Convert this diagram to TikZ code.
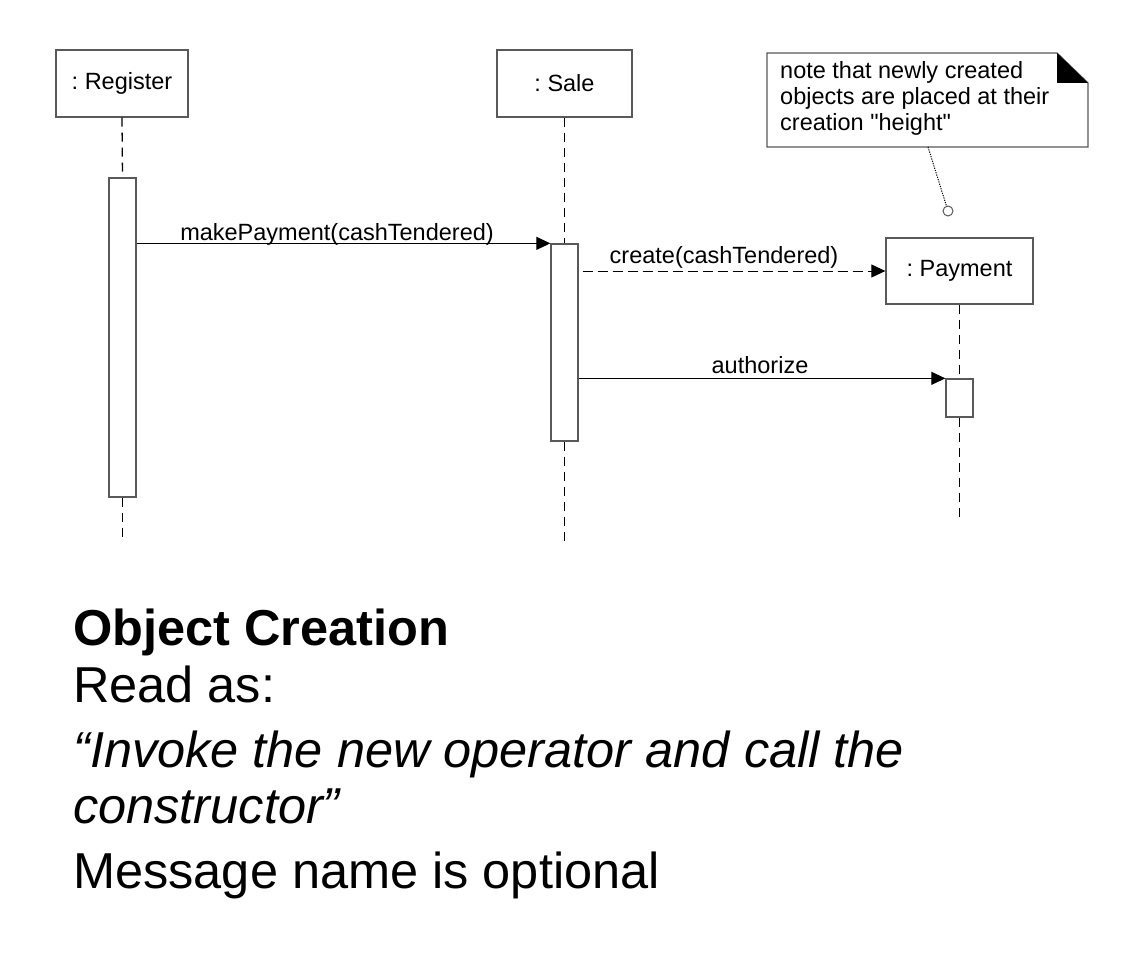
\documentclass[tikz,border=0pt]{standalone}
\usepackage{fontspec}
\setmainfont{Liberation Sans}[Ligatures=TeXOff]
\usetikzlibrary{arrows.meta}
\frenchspacing
\begin{document}
\begin{tikzpicture}[x=1pt,y=-1pt,
  obj/.style={draw=black!65, line width=1.3pt, minimum height=67pt, inner sep=0pt, font=\fontsize{23.5}{28}\selectfont},
  act/.style={draw=black!65, fill=white, line width=1.3pt, minimum width=27pt, inner sep=0pt},
  life/.style={line width=1.3pt, dash pattern=on 9pt off 6pt},
  msg/.style={line width=1pt, -{Triangle[length=14pt,width=13pt]}},
  crt/.style={msg, dash pattern=on 10pt off 5pt},
  lbl/.style={font=\fontsize{23.5}{28}\selectfont, inner sep=0pt, anchor=base},
  big/.style={font=\fontsize{50.5}{60}\selectfont, inner sep=0pt, anchor=base west},
  notebox/.style={draw=black!65, line width=1.3pt, fill=white},
]
\useasboundingbox (0,0) rectangle (1130,966);

% objects
\node[obj, minimum width=132pt] (reg) at (122,83.5) {: Register};
\node[obj, minimum width=135pt] (sale) at (564.5,83.5) {: Sale};
\node[obj, minimum width=147pt, minimum height=66pt] (pay) at (959.5,271) {: Payment};

% activations
\node[act, minimum height=319pt] (ra) at (122.5,337.5) {};
\node[act, minimum height=197pt] (sa) at (564.5,342.5) {};
\node[act, minimum height=38pt] (pa) at (959.5,398) {};

% lifeline ends
\coordinate (regend) at (122.5,542);
\coordinate (saleend) at (564.5,542);
\coordinate (payend) at (959.5,522);

\draw[life] (reg.south) -- (ra.north);
\draw[life] (ra.south) -- (regend);
\draw[life] (sale.south) -- (sa.north);
\draw[life] (sa.south) -- (saleend);
\draw[life] (pay.south) -- (pa.north);
\draw[life] (pa.south) -- (payend);

% messages
\draw[msg] (ra.east |- sa.north west) -- (sa.north west);
\node[lbl] (l1) at (337,240) {makePayment(cashTendered)};
\coordinate (cstart) at ([xshift=4pt]sa.east |- pay.west);
\draw[crt] (cstart) -- (pay.west);
\node[lbl] (l2) at (724,263) {create(cashTendered)};
\draw[msg] (sa.east |- pa.north west) -- (pa.north west);
\node[lbl] (l3) at (760,373) {authorize};

% note
\draw[notebox] (767,53) -- (1057,53) -- (1088,83) -- (1088,147) -- (767,147) -- cycle;
\fill[black] (1057,53) -- (1057,83) -- (1088,83) -- cycle;
\node[font=\fontsize{23.5}{26}\selectfont, inner sep=0pt, anchor=north west, align=left] (notetext) at (780,61)
  {note that newly created\\objects are placed at their\\creation "height"};
\coordinate (notefoot) at (928,147);
\node[circle, draw=black!65, fill=white, line width=1pt, minimum size=10pt, inner sep=0pt] (pin) at (948,211) {};
\draw[line width=1pt, dash pattern=on 1.2pt off 1.2pt] (notefoot) -- (pin);

% caption
\node[big, font=\fontsize{50.5}{60}\selectfont\bfseries] (t1) at (73,645) {Object Creation};
\node[big] (t2) at (73,702) {Read as:};
\node[big, font=\fontsize{50.5}{60}\selectfont\itshape] (t3) at (73,767) {“Invoke the new operator and call the};
\node[big, font=\fontsize{50.5}{60}\selectfont\itshape] (t4) at (73,823) {constructor”};
\node[big] (t5) at (73,888) {Message name is optional};
\end{tikzpicture}
\end{document}
